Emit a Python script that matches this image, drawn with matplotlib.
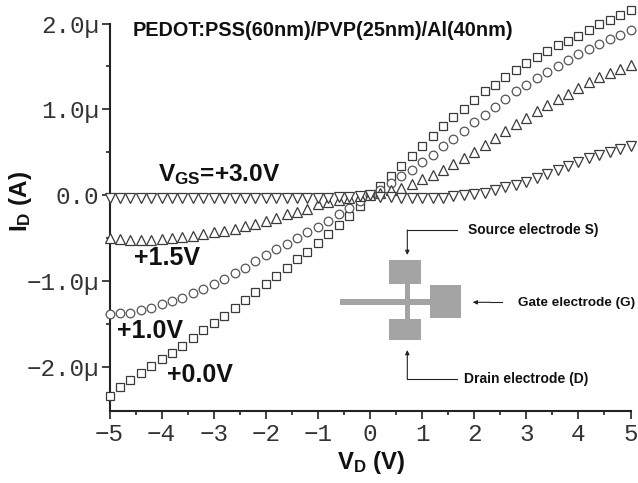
import numpy as np
import matplotlib
matplotlib.use('Agg')
import matplotlib.pyplot as plt
from matplotlib.patches import Rectangle

# drain voltage, 0.2 V steps
vd = [-5.0, -4.8, -4.6, -4.4, -4.2, -4.0, -3.8, -3.6, -3.4, -3.2, -3.0, -2.8, -2.6,
      -2.4, -2.2, -2.0, -1.8, -1.6, -1.4, -1.2, -1.0, -0.8, -0.6, -0.4, -0.2, 0.0,
      0.2, 0.4, 0.6, 0.8, 1.0, 1.2, 1.4, 1.6, 1.8, 2.0, 2.2, 2.4, 2.6, 2.8, 3.0,
      3.2, 3.4, 3.6, 3.8, 4.0, 4.2, 4.4, 4.6, 4.8, 5.0]

id_00 = [-2.33, -2.23, -2.15, -2.07, -1.99, -1.90, -1.83, -1.75, -1.66, -1.57, -1.49, -1.40, -1.31,
         -1.22, -1.13, -1.03, -0.94, -0.85, -0.745, -0.655, -0.56, -0.45, -0.34, -0.24, -0.12, 0.0,
         0.11, 0.23, 0.345, 0.46, 0.58, 0.69, 0.806, 0.91, 1.01, 1.115, 1.21, 1.29, 1.38, 1.46, 1.54,
         1.61, 1.68, 1.75, 1.80, 1.86, 1.92, 2.00, 2.04, 2.10, 2.16]

id_10 = [-1.38, -1.37, -1.37, -1.34, -1.31, -1.27, -1.23, -1.19, -1.14, -1.09, -1.03, -0.97, -0.90,
         -0.84, -0.77, -0.70, -0.63, -0.57, -0.50, -0.43, -0.37, -0.30, -0.215, -0.145, -0.065, 0.0,
         0.06, 0.145, 0.22, 0.30, 0.39, 0.47, 0.57, 0.66, 0.75, 0.85, 0.94, 1.03, 1.12, 1.21, 1.29,
         1.37, 1.44, 1.51, 1.58, 1.64, 1.70, 1.76, 1.82, 1.87, 1.92]

id_15 = [-0.50, -0.51, -0.52, -0.52, -0.52, -0.51, -0.50, -0.49, -0.47, -0.45, -0.43, -0.41, -0.39,
         -0.36, -0.33, -0.30, -0.26, -0.22, -0.19, -0.16, -0.10, -0.08, -0.05, -0.03, -0.01, 0.0,
         0.03, 0.06, 0.09, 0.13, 0.19, 0.24, 0.30, 0.36, 0.44, 0.51, 0.59, 0.67, 0.75, 0.83, 0.90,
         0.98, 1.05, 1.12, 1.185, 1.255, 1.32, 1.375, 1.425, 1.475, 1.52]

id_30 = [-0.035, -0.035, -0.035, -0.035, -0.035, -0.035, -0.035, -0.035, -0.035, -0.035, -0.035, -0.035, -0.035,
         -0.035, -0.035, -0.035, -0.035, -0.035, -0.035, -0.03, -0.03, -0.03, -0.02, -0.02, -0.01, 0.0,
         -0.015, -0.025, -0.03, -0.03, -0.03, -0.03, -0.03, -0.006, 0.006, 0.02, 0.03, 0.06, 0.10, 0.125, 0.157,
         0.207, 0.25, 0.30, 0.34, 0.39, 0.43, 0.47, 0.51, 0.535, 0.575]

y_ticks = [-2.0, -1.0, 0.0, 1.0, 2.0]
y_tick_labels = ['\u22122.0\u00b5', '\u22121.0\u00b5', '0.0', '1.0\u00b5', '2.0\u00b5']
x_ticks = [-5, -4, -3, -2, -1, 0, 1, 2, 3, 4, 5]

W, H = 638, 483
INK = '#333333'

plt.rcParams['font.family'] = ['Liberation Sans', 'DejaVu Sans']
plt.rcParams['mathtext.default'] = 'regular'

fig = plt.figure(figsize=(W / 100, H / 100), dpi=100)
ax = fig.add_axes([109.5 / W, 1 - 411 / H, (630.5 - 109.5) / W, (411 - 23.5) / H])

# drawn so that the top series ends up over the others near the origin
ax.plot(vd, id_00, ls='none', marker='s', ms=5.3, mfc='white', mec='#3a3a3a', mew=0.9, clip_on=False, zorder=5)
ax.plot(vd, id_10, ls='none', marker='o', ms=6.2, mfc='white', mec='#555555', mew=0.9, clip_on=False, zorder=6)
ax.plot(vd, id_15, ls='none', marker='^', ms=7.2, mfc='white', mec='#3a3a3a', mew=0.9, clip_on=False, zorder=7)
ax.plot(vd, id_30, ls='none', marker='v', ms=7.2, mfc='white', mec='#3a3a3a', mew=0.9, clip_on=False, zorder=8)

ax.set_xlim(-5, 5)
ax.set_ylim(-2.51, 2.0)
ax.spines['top'].set_visible(False)
ax.spines['right'].set_visible(False)
ax.spines['left'].set_linewidth(1.5)
ax.spines['bottom'].set_linewidth(1.5)
ax.spines['left'].set_color('#222222')
ax.spines['bottom'].set_color('#222222')

ax.set_xticks(x_ticks)
ax.set_xticks(np.arange(-4.5, 5, 1), minor=True)
ax.set_yticks(y_ticks)
ax.set_yticks([-1.5, -0.5, 0.5, 1.5], minor=True)
ax.set_yticklabels(y_tick_labels)
ax.set_xticklabels([str(v).replace('-', '\u2212') for v in x_ticks])
ax.tick_params(which='major', length=5.5, width=1.2, color='#222222', labelcolor=INK, pad=2)
ax.tick_params(axis='x', which='major', pad=3)
ax.tick_params(which='minor', length=2.8, width=1.2, color='#222222')
for lab in ax.get_xticklabels() + ax.get_yticklabels():
    lab.set_family('Liberation Mono')
    lab.set_fontsize(17.5)


def px(x, y):
    return x / W, 1 - y / H


def label(x, y, s, size, ha='left', **kw):
    fx, fy = px(x, y)
    fig.text(fx, fy, s, fontsize=size, fontweight='bold', ha=ha, va='center', color='#111111', **kw)


label(133, 30, 'PEDOT:PSS(60nm)/PVP(25nm)/Al(40nm)', 14.3)
label(158, 175, 'V$_{GS}$=+3.0V', 17.6)
label(134, 258, '+1.5V', 18)
label(117, 331, '+1.0V', 18)
label(167, 375, '+0.0V', 18)
label(371, 462, 'V$_{D}$ (V)', 17.2, ha='center')
label(21, 201, 'I$_{D}$ (A)', 17.5, ha='center', rotation=90, rotation_mode='anchor')

# device schematic
GRAY = '#a4a4a4'
for x0, y0, x1, y1 in [(389.3, 260, 420.7, 284), (389.3, 318.7, 420.7, 339.7),
                       (430, 284.7, 461.3, 318), (340, 298.7, 430, 305.3),
                       (405, 284, 410, 318.7)]:
    fx, fy = px(x0, y1)
    fig.add_artist(Rectangle((fx, fy), (x1 - x0) / W, (y1 - y0) / H, transform=fig.transFigure,
                             fc=GRAY, ec='none'))


def arrow(path):
    xs = [px(*p)[0] for p in path]
    ys = [px(*p)[1] for p in path]
    fig.add_artist(plt.Line2D(xs[:-1], ys[:-1], transform=fig.transFigure, color='#222222', lw=0.8))
    ax.annotate('', xy=(xs[-1], ys[-1]), xytext=(xs[-2], ys[-2]), xycoords='figure fraction',
                textcoords='figure fraction',
                arrowprops=dict(arrowstyle='-|>,head_width=0.12,head_length=0.25', color='#222222',
                                lw=0.8, shrinkA=0, shrinkB=0))


arrow([(456.7, 230), (407.3, 230), (407.3, 255)])
arrow([(502.3, 302.3), (490, 302.3), (472.7, 302.3)])
arrow([(456.7, 379), (407.3, 379), (407.3, 350)])

label(467.7, 230, 'Source electrode S)', 10)
label(518, 303, 'Gate electrode (G)', 9.7)
label(464, 379, 'Drain electrode (D)', 10)

fig.savefig('out.png', dpi=100)
